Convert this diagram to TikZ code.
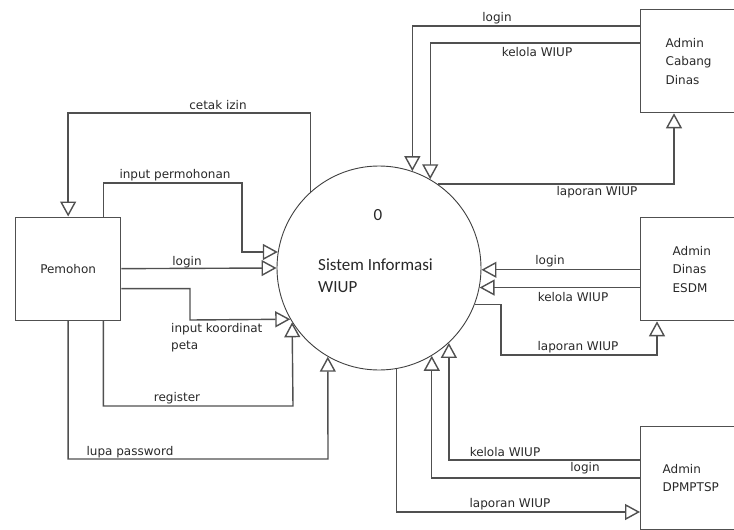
\documentclass[tikz,border=0pt]{standalone}
\usepackage{fontspec}
\setmainfont{DejaVu Sans}
\newfontfamily\circfont{Carlito}
\usetikzlibrary{arrows.meta}
\definecolor{linegray}{RGB}{80,80,80}
\definecolor{textgray}{RGB}{40,40,40}
\tikzset{
  ent/.style={draw=linegray, line width=1.3pt, rectangle, minimum width=105pt,
    minimum height=103pt, inner ysep=0pt, align=left, text=textgray,
    font=\fontsize{12}{18.5}\selectfont, anchor=north west},
  proc/.style={draw=black!75, line width=0.9pt, circle, minimum size=204pt, inner sep=0pt, fill=white},
  flow/.style={draw=linegray, line width=1.4pt, -{Triangle[length=15pt,width=16pt,fill=white]}},
  lbl/.style={font=\fontsize{12}{17}\selectfont, text=textgray, inner sep=1pt},
}
\begin{document}
\begin{tikzpicture}[x=1pt,y=-1pt]
  \useasboundingbox (0,0) rectangle (734,530);
  \clip (0,0) rectangle (734,530);
  % proses
  \node[proc] (sys) at (379,268) {};
  \node[font=\fontsize{17}{22}\selectfont\circfont, text=textgray] (sysid) at (378,215) {0};
  \node[font=\fontsize{17}{22}\selectfont\circfont, text=textgray, align=left, anchor=west, inner sep=0pt]
    (sysname) at (318,276) {Sistem Informasi\\WIUP};
  % entitas
  \node[ent, align=center] (pem) at (15,216.5) {Pemohon};
  \node[ent, inner xsep=25pt, text width=55pt] (cab) at (640,9) {Admin\\Cabang\\Dinas};
  \node[ent, inner xsep=32pt, text width=41pt] (esd) at (640,217) {Admin\\Dinas\\ESDM};
  \node[ent, inner xsep=22pt, text width=61pt] (dpm) at (640,426) {Admin\\DPMPTSP};
  % pemohon
  \draw[flow] (sys.132.6) |- (pem.north |- 0,113) -- (pem.north);
  \draw[flow] ([xshift=-18pt]pem.north east) |- (242,183) |- (sys.171);
  \draw[flow] (pem.east) -- (sys.west);
  \draw[flow] ([yshift=-20pt]pem.east) -| (190,320) -- (sys.210.7);
  \draw[flow] ([xshift=-18pt]pem.south east) |- (293,406) -- (sys.212.5);
  \draw[flow] (pem.south) |- (328,459) -- (sys.240);
  % admin cabang dinas
  \draw[flow] ([yshift=-17pt]cab.north west) -| (sys.71);
  \draw[flow] ([yshift=-34pt]cab.north west) -| (sys.60);
  \draw[flow] (sys.55) -| ([xshift=34pt]cab.south west);
  % admin dinas esdm
  \draw[flow] (esd.west |- sys.359) -- (sys.359);
  \draw[flow] (esd.west |- sys.349.3) -- (sys.349.3);
  \draw[flow] (sys.339.3) -| (501,355) -| ([xshift=17pt]esd.south west);
  % admin dpmptsp
  \draw[flow] ([yshift=-34pt]dpm.north west) -| (sys.313.3);
  \draw[flow] ([yshift=-52pt]dpm.north west) -| (sys.301.3);
  \draw[flow] (sys.280) |- ([yshift=-86pt]dpm.north west);
  % label
  \node[lbl] (lcetak) at (218,105) {cetak izin};
  \node[lbl] (linput) at (175,175) {input permohonan};
  \node[lbl] (llogin) at (187,262) {login};
  \node[lbl, align=left, anchor=north west] (lkoord) at (170,322) {input koordinat\\peta};
  \node[lbl] (lreg) at (177,398) {register};
  \node[lbl] (llupa) at (130,452) {lupa password};
  \node[lbl] (lcablogin) at (497,18) {login};
  \node[lbl] (lcabkelola) at (537,52) {kelola WIUP};
  \node[lbl] (lcablap) at (597,192) {laporan WIUP};
  \node[lbl] (lesdlogin) at (550,261) {login};
  \node[lbl] (lesdkelola) at (573,297) {kelola WIUP};
  \node[lbl] (lesdlap) at (578,347) {laporan WIUP};
  \node[lbl] (ldpmkelola) at (505,452) {kelola WIUP};
  \node[lbl] (ldpmlogin) at (585,468) {login};
  \node[lbl] (ldpmlap) at (510,504) {laporan WIUP};
\end{tikzpicture}
\end{document}
